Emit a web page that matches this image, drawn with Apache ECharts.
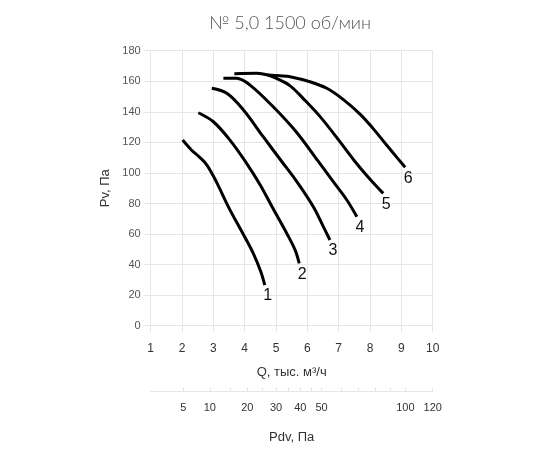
<!DOCTYPE html>
<html>
<head>
<meta charset="utf-8">
<script src="https://cdn.jsdelivr.net/npm/echarts@6/dist/echarts.min.js"></script>
<style>html,body{margin:0;padding:0;background:#fff}#c{width:550px;height:450px}</style>
</head>
<body>
<div id="c"></div>
<script>
const titleText = '№ 5,0 1500 об/мин';
const curveNames = ['1', '2', '3', '4', '5', '6'];
const curve1Q = [2.02, 2.3, 2.55, 2.8, 3.1, 3.5, 3.95, 4.27, 4.52, 4.64];
const curve1P = [121.5, 115, 110.5, 105, 94, 77, 60, 47.5, 35, 26.6];
const curve2Q = [2.52, 3.0, 3.53, 4.06, 4.5, 4.91, 5.34, 5.61, 5.74];
const curve2P = [139.4, 133.5, 121.5, 106.3, 92, 76.5, 60.5, 49.5, 40.8];
const curve3Q = [2.95, 3.43, 3.96, 4.59, 5.2, 5.64, 6.19, 6.51, 6.72];
const curve3P = [155.4, 152.1, 141.2, 123.7, 107, 95, 77.9, 64.8, 56.1];
const curve4Q = [3.32, 3.74, 4.17, 4.91, 5.66, 6.35, 6.82, 7.26, 7.58];
const curve4P = [161.9, 161.9, 157.5, 143.3, 126.5, 107.5, 94.5, 82.3, 71.3];
const curve5Q = [3.67, 4.38, 4.74, 5.0, 5.45, 5.9, 6.4, 7.0, 7.5, 7.95, 8.42];
const curve5P = [164.9, 165.2, 164.1, 162, 157, 148, 137, 121.5, 108, 97, 86.6];
const curve6Q = [4.74, 5.13, 5.45, 6.08, 6.62, 7.15, 7.68, 8.1, 8.42, 8.74, 9.12];
const curve6P = [164.1, 163.6, 163, 159.7, 155.4, 148, 138.5, 129, 121, 113, 103.7];
const pdvTickValues = [5, 10, 15, 20, 25, 30, 35, 40, 45, 50, 60, 70, 80, 90, 100, 120];
const pdvLabelValues = [5, 10, 20, 30, 40, 50, 100, 120];
const pdvFactor = 1.2; // Pdv = 1.2 * Q^2

const curvesQ = [curve1Q, curve2Q, curve3Q, curve4Q, curve5Q, curve6Q];
const curvesP = [curve1P, curve2P, curve3P, curve4P, curve5P, curve6P];
const pdvToQ = p => Math.sqrt(p / pdvFactor);

const font = 'Liberation Sans, Arial, sans-serif';
const gridColor = '#e6e6e6';

const series = curvesQ.map((qs, i) => {
  const data = qs.map((q, j) => [q, curvesP[i][j]]);
  return {
    type: 'line',
    name: curveNames[i],
    xAxisIndex: 0,
    data: data,
    smooth: 0.35,
    symbol: 'circle',
    symbolSize: 0,
    showSymbol: true,
    silent: true,
    lineStyle: { color: '#000', width: 3 },
    itemStyle: { color: '#000' },
    label: {
      show: true,
      position: 'bottom',
      distance: 3,
      offset: [3, 0],
      color: '#111',
      fontSize: 16,
      fontFamily: font,
      formatter: p => (p.dataIndex === data.length - 1 ? curveNames[i] : '')
    },
    z: 3
  };
});

const chart = echarts.init(document.getElementById('c'), null, { renderer: 'canvas' });
chart.setOption({
  backgroundColor: '#fff',
  animation: false,
  title: {
    text: titleText,
    left: 204,
    top: 9,
    textStyle: { fontFamily: 'Lato, sans-serif', fontWeight: 300, fontSize: 18, color: '#555' }
  },
  grid: { left: 150.7, right: 117.3, top: 50.7, bottom: 124.3, outerBoundsMode: 'none', containLabel: false },
  xAxis: [
    {
      type: 'value', min: 1, max: 10, interval: 1,
      name: 'Q, тыс. м³/ч', nameLocation: 'middle', nameGap: 40,
      nameTextStyle: { fontFamily: font, fontSize: 13, color: '#333' },
      axisLine: { show: false },
      axisTick: { show: true, length: 6, lineStyle: { color: gridColor } },
      axisLabel: { margin: 17, fontFamily: font, fontSize: 12, color: '#333' },
      splitLine: { show: true, lineStyle: { color: gridColor, width: 1 } }
    },
    {
      type: 'value', min: 1, max: 10, position: 'bottom', offset: 66,
      name: 'Pdv, Па', nameLocation: 'middle', nameGap: 39,
      nameTextStyle: { fontFamily: font, fontSize: 13, color: '#333' },
      axisLine: { show: true, lineStyle: { color: gridColor } },
      axisTick: { show: true, inside: true, length: 4, customValues: pdvTickValues.map(pdvToQ), lineStyle: { color: gridColor } },
      axisLabel: {
        margin: 11, fontFamily: font, fontSize: 11, color: '#333',
        customValues: pdvLabelValues.map(pdvToQ),
        formatter: v => String(Math.round(pdvFactor * v * v))
      },
      splitLine: { show: false }
    }
  ],
  yAxis: {
    type: 'value', min: 0, max: 180, interval: 20,
    name: 'Pv, Па', nameLocation: 'middle', nameGap: 21,
    nameTextStyle: { fontFamily: font, fontSize: 13, color: '#333' },
    axisLine: { show: false },
    axisTick: { show: true, length: 7, lineStyle: { color: gridColor } },
    axisLabel: { margin: 10, fontFamily: font, fontSize: 11, color: '#555' },
    splitLine: { show: true, lineStyle: { color: gridColor, width: 1 } }
  },
  series: series
});
</script>
</body>
</html>
